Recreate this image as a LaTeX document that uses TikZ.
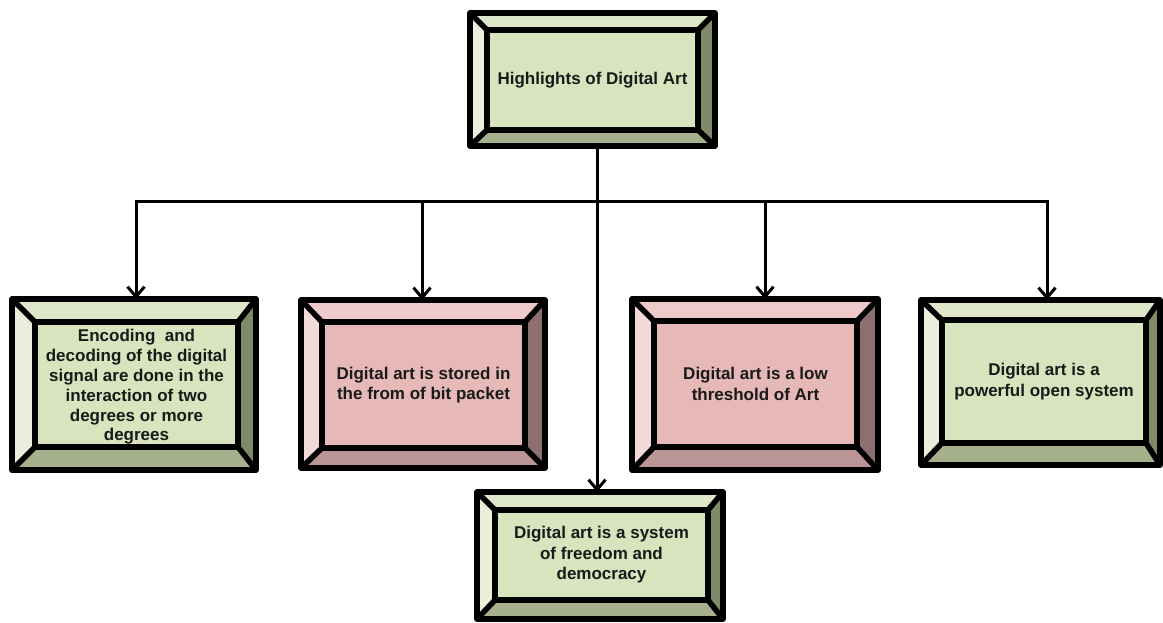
\documentclass[tikz,border=0pt]{standalone}
\usepackage{fontspec}
\setmainfont{Liberation Sans}
\usetikzlibrary{arrows.meta}

\definecolor{gFace}{HTML}{D7E4BD}
\definecolor{gTop}{HTML}{DFE7CB}
\definecolor{gLeft}{HTML}{E9EFDB}
\definecolor{gRight}{HTML}{7F8A69}
\definecolor{gBot}{HTML}{A7B08D}
\definecolor{pFace}{HTML}{E6B9B8}
\definecolor{pTop}{HTML}{EECBCA}
\definecolor{pLeft}{HTML}{F2DAD9}
\definecolor{pRight}{HTML}{8D6F6F}
\definecolor{pBot}{HTML}{B99695}

\begin{document}
\begin{tikzpicture}[
    x=1pt, y=-1pt,
    shell/.style={rectangle, inner sep=0pt, outer sep=0pt},
    face/.style={rectangle, inner sep=0pt, outer sep=0pt, align=center,
                 font=\bfseries\fontsize{17}{20.5}\selectfont, text=black!90},
    rim/.style={line width=5.5pt, line join=round, black},
    wire/.style={line width=3pt, line cap=rect, black},
    link/.style={line width=3pt, black, -{Straight Barb[length=10pt, width=17pt]}},
  ]
  \useasboundingbox[fill=white] (0,0) rectangle (1163,623);

  % --- box frames (outer) and faces (inner) ---
  \node[shell, minimum width=245, minimum height=133] (hl)   at (592.5,79.5) {};
  \node[shell, minimum width=244, minimum height=171] (enc)  at (134,384.5)  {};
  \node[shell, minimum width=244, minimum height=168] (stor) at (423,384)    {};
  \node[shell, minimum width=246, minimum height=171] (low)  at (755,384.5)  {};
  \node[shell, minimum width=239, minimum height=165] (open) at (1040.5,382.5) {};
  \node[shell, minimum width=246, minimum height=127] (free) at (600,555.5)  {};

  \node[face, fill=gFace, minimum width=211, minimum height=100] (hl-in) at (592.5,80)
    {Highlights of Digital Art};
  \node[face, fill=gFace, minimum width=203, minimum height=125] (enc-in) at (136.5,384.5)
    {\parbox{200pt}{\centering\fontsize{17}{19.8}\selectfont\vspace*{5pt}Encoding\ \ and\\decoding of the digital\\signal are done in the\\interaction of two\\degrees or more\\degrees}};
  \node[face, fill=pFace, minimum width=203, minimum height=126] (stor-in) at (423.5,385)
    {Digital art is stored in\\the from of bit packet};
  \node[face, fill=pFace, minimum width=203, minimum height=126] (low-in) at (755.5,384)
    {Digital art is a low\\threshold of Art};
  \node[face, fill=gFace, minimum width=204, minimum height=123] (open-in) at (1044,381.5)
    {Digital art is a\\powerful open system};
  \node[face, fill=gFace, minimum width=213, minimum height=90] (free-in) at (601.5,555)
    {Digital art is a system\\of freedom and\\democracy};

  % --- bevels ---
  \foreach \n/\col in {hl/g, enc/g, stor/p, low/p, open/g, free/g} {
    \fill[fill=\col Top] (\n.north west) -- (\n.north east) -- (\n-in.north east) -- (\n-in.north west) -- cycle;
    \fill[fill=\col Left] (\n.north west) -- (\n-in.north west) -- (\n-in.south west) -- (\n.south west) -- cycle;
    \fill[fill=\col Right] (\n.north east) -- (\n.south east) -- (\n-in.south east) -- (\n-in.north east) -- cycle;
    \fill[fill=\col Bot] (\n.south west) -- (\n-in.south west) -- (\n-in.south east) -- (\n.south east) -- cycle;
    \draw[rim] (\n.north west) rectangle (\n.south east);
    \draw[rim] (\n-in.north west) rectangle (\n-in.south east);
    \draw[rim] (\n.north west) -- (\n-in.north west);
    \draw[rim] (\n.north east) -- (\n-in.north east);
    \draw[rim] (\n.south west) -- (\n-in.south west);
    \draw[rim] (\n.south east) -- (\n-in.south east);
  }

  % --- connectors ---
  \coordinate (bus) at (0,202);
  \coordinate (enctip)  at ([xshift=2]enc.north);
  \coordinate (stortip) at ([xshift=-1]stor.north);
  \coordinate (lowtip)  at ([xshift=10]low.north);
  \coordinate (opentip) at ([xshift=6.5]open.north);
  \coordinate (hlfoot)  at ([xshift=4.5]hl.south);
  \coordinate (freetip) at ([xshift=-3]free.north);

  \draw[wire] (enctip |- bus) -- (opentip |- bus);
  \draw[link] (hlfoot) -- (freetip);
  \foreach \t in {enctip, stortip, lowtip, opentip}
    \draw[link] (\t |- bus) -- (\t);
\end{tikzpicture}
\end{document}
